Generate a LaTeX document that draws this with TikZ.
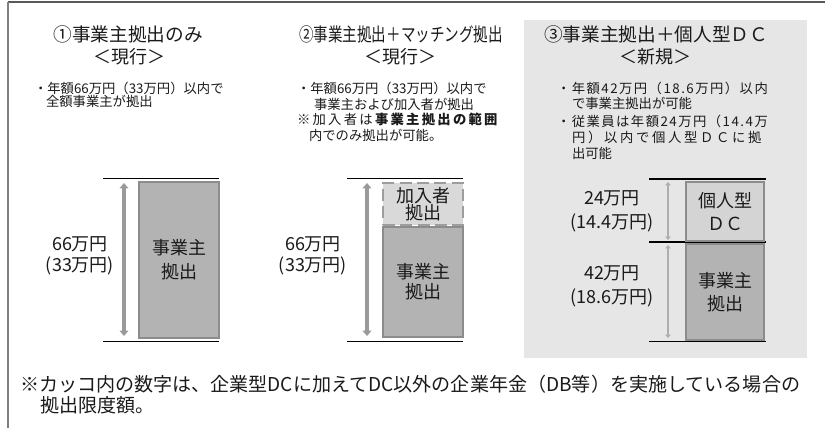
\documentclass[tikz,border=0pt]{standalone}
\usepackage{fontspec}
\setmainfont{Noto Sans CJK JP}
\usetikzlibrary{arrows.meta}
\definecolor{panel}{HTML}{E6E6E6}
\definecolor{dkfill}{HTML}{B3B3B3}
\definecolor{ltfill}{HTML}{D9D9D9}
\definecolor{bdcol}{HTML}{8C8C8C}
\definecolor{arcol}{HTML}{9A9A9A}
\definecolor{txt}{HTML}{1A1A1A}
\begin{document}
\begin{tikzpicture}[x=0.75pt,y=-0.75pt,
  every node/.style={text=txt,inner sep=0pt,outer sep=0pt},
  ttl/.style={font=\fontsize{14}{16}\selectfont},
  subttl/.style={font=\fontsize{13.5}{16}\selectfont},
  bul/.style={font=\fontsize{10}{11}\selectfont,anchor=west},
  lab/.style={font=\fontsize{13.5}{16}\selectfont,align=center},
  dkbox/.style={draw=bdcol,fill=dkfill,line width=1.1pt,align=center,font=\fontsize{13.5}{15}\selectfont,minimum width=60pt},
  ltbox/.style={draw=bdcol,fill=ltfill,line width=1.1pt,align=center,font=\fontsize{13.5}{15}\selectfont,minimum width=60pt},
  hline/.style={line width=1.3pt,black},
  dimarrow/.style={arcol,line width=2.6pt,{Triangle[width=6.5pt,length=4pt]}-{Triangle[width=6.5pt,length=4pt]}},
  thinarrow/.style={arcol!80,line width=1.6pt,{Triangle[width=4pt,length=2.5pt]}-{Triangle[width=4pt,length=2.5pt]}},
  foot/.style={font=\fontsize{14.3}{16}\selectfont,anchor=west}]
\useasboundingbox (0,0) rectangle (825,428);
% panel and frame
\fill[panel] (524,20) rectangle (807,358);
\draw[line width=1.1pt,black!65] (8,2) -- (825,2);
\draw[line width=1.1pt,black!50] (8,2) -- (8,428);

% ---------- column 1 ----------
\node[ttl] (t1) at (128,34) {①事業主拠出のみ};
\node[subttl] (s1) at (129,57) {＜現行＞};
\node[bul] (b11) at (34,88) {・年額66万円（33万円）以内で};
\node[bul] (b12) at (46,101) {全額事業主が拠出};
\draw[hline] (103,178.5) -- (219,178.5);
\draw[hline] (103,341.5) -- (219,341.5);
\node[dkbox,minimum height=117pt] (box1) at (179,260) {事業主\\[3pt]拠出};
\coordinate (a1t) at (124,183);
\coordinate (a1b) at (124,336);
\draw[dimarrow] (a1t) -- (a1b);
\node[lab] (l1) at (80,256) {66万円\\(33万円)};

% ---------- column 2 ----------
\node[ttl] (t2) at (401,34) {\scalebox{0.78}[1]{②事業主拠出＋マッチング拠出}};
\node[subttl] (s2) at (400,57) {＜現行＞};
\node[bul] (b21) at (297,88) {・年額66万円（33万円）以内で};
\node[bul] (b22) at (314,104) {事業主および加入者が拠出};
\node[bul] (b23) at (297,119) {\addfontfeature{LetterSpace=17}※加入者は\textbf{事業主拠出の範囲}};
\node[bul] (b24) at (309,135) {内でのみ拠出が可能。};
\draw[hline] (347,178.5) -- (463,178.5);
\draw[hline] (347,341.5) -- (463,341.5);
\node[ltbox,draw=bdcol!85,dashed,dash pattern=on 9pt off 4pt,minimum height=31.5pt] (box2u) at (423,204) {加入者\\[-2pt]拠出};
\node[dkbox,minimum height=82.5pt] (box2l) at (423,282) {事業主\\[0pt]拠出};
\coordinate (a2t) at (367,183);
\coordinate (a2b) at (367,336);
\draw[dimarrow] (a2t) -- (a2b);
\node[lab] (l2) at (313,256) {66万円\\(33万円)};

% ---------- column 3 ----------
\node[ttl] (t3) at (656,34) {③事業主拠出＋個人型ＤＣ};
\node[subttl] (s3) at (655,57) {＜新規＞};
\node[bul] (b31) at (557,88) {\addfontfeature{LetterSpace=11}・年額42万円（18.6万円）以内};
\node[bul] (b32) at (572,103) {で事業主拠出が可能};
\node[bul] (b33) at (557,121) {\addfontfeature{LetterSpace=11}・従業員は年額24万円（14.4万};
\node[bul] (b34) at (572,137) {\addfontfeature{LetterSpace=20}円）以内で個人型ＤＣに拠};
\node[bul] (b35) at (572,153) {出可能};
\draw[hline] (649,179) -- (766,179);
\draw[hline] (649,242) -- (766,242);
\draw[hline] (649,341.5) -- (766,341.5);
\node[ltbox,fill=black!17,minimum width=58.5pt,minimum height=44.25pt] (box3u) at (725,211.5) {個人型\\[2pt]ＤＣ};
\node[dkbox,minimum width=58.5pt,minimum height=72pt] (box3l) at (725,292) {事業主\\[2pt]拠出};
\coordinate (a3t) at (668,182);
\coordinate (a3m) at (668,240);
\coordinate (a3n) at (668,245);
\coordinate (a3b) at (668,338);
\draw[thinarrow] (a3t) -- (a3m);
\draw[thinarrow] (a3n) -- (a3b);
\node[lab] (l3u) at (612,211.5) {24万円\\[2pt](14.4万円)};
\node[lab] (l3l) at (612,286) {42万円\\[2pt](18.6万円)};

% ---------- footnote ----------
\node[foot] (f1) at (20,384) {※カッコ内の数字は、企業型DCに加えてDC以外の企業年金（DB等）を実施している場合の};
\node[foot] (f2) at (40,405) {拠出限度額。};
\end{tikzpicture}
\end{document}
